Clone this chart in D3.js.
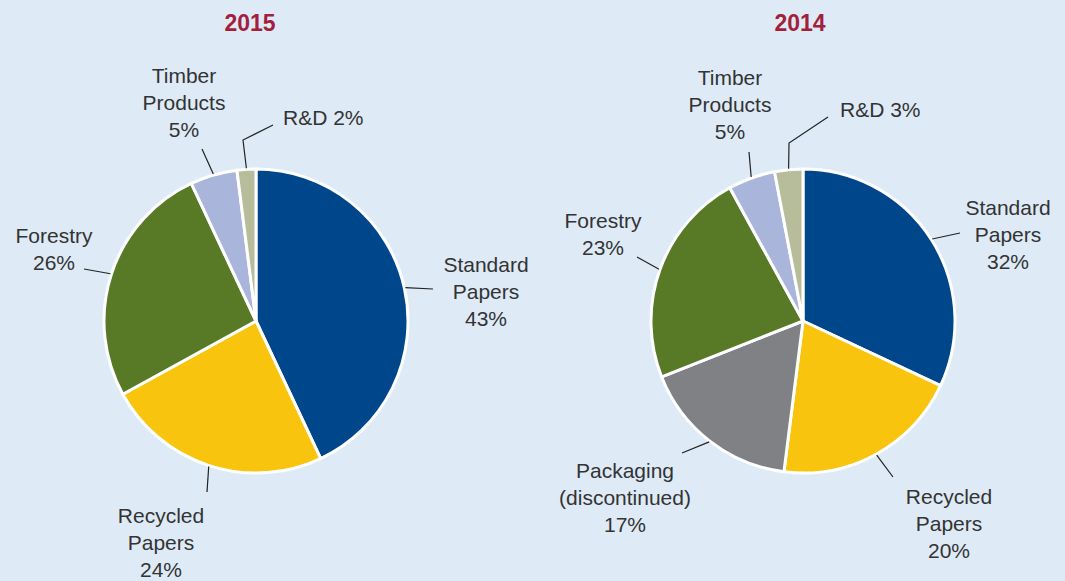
<!DOCTYPE html>
<html>
<head>
<meta charset="utf-8">
<script src="https://cdn.jsdelivr.net/npm/d3@7"></script>
<style>
  html, body { margin: 0; padding: 0; background: #deebf7; }
  svg { display: block; }
  .lbl { font-family: "Liberation Sans", Arial, sans-serif; font-size: 21px; fill: #333; }
  .title { font-family: "Liberation Sans", Arial, sans-serif; font-size: 23px; font-weight: bold; fill: #a31f3b; }
</style>
</head>
<body>
<svg id="chart" width="1065" height="581"></svg>
<script>
'use strict';

// data
const years = ['2015', '2014'];
const categories2015 = ['Standard Papers', 'Recycled Papers', 'Forestry', 'Timber Products', 'R&D'];
const values2015 = [43, 24, 26, 5, 2];
const categories2014 = ['Standard Papers', 'Recycled Papers', 'Packaging (discontinued)', 'Forestry', 'Timber Products', 'R&D'];
const values2014 = [32, 20, 17, 23, 5, 3];

const COLORS = {
    'Standard Papers': '#00468b',
    'Recycled Papers': '#f8c40e',
    'Packaging (discontinued)': '#808185',
    'Forestry': '#587a26',
    'Timber Products': '#a9b5da',
    'R&D': '#b7bd9b'
};

const RADIUS = 152;

// label placement relative to pie centre: text anchor [dx, dy], leader end, optional elbow
const LAYOUT = {
    '2015': {
        cx: 256, cy: 321,
        'Standard Papers': { t: [230, -49], end: [177, -32] },
        'Recycled Papers': { t: [-95, 202], end: [-49, 171] },
        'Forestry': { t: [-202, -78], end: [-172, -52] },
        'Timber Products': { t: [-72, -238], end: [-54, -172] },
        'R&D': { t: [27, -196], end: [17, -196], elbow: [-13, -181], inline: true }
    },
    '2014': {
        cx: 803, cy: 321,
        'Standard Papers': { t: [205, -106], end: [157, -88] },
        'Recycled Papers': { t: [146, 183], end: [90, 156] },
        'Packaging (discontinued)': { t: [-178, 157], end: [-121, 132] },
        'Forestry': { t: [-200, -93], end: [-166, -64] },
        'Timber Products': { t: [-73, -236], end: [-54, -169] },
        'R&D': { t: [37, -204], end: [25, -204], elbow: [-14, -178], inline: true }
    }
};

const svg = d3.select('#chart');

const pie = d3.pie().sort(null).value(function(d) { return d.value; });
const arc = d3.arc().innerRadius(0).outerRadius(RADIUS);

function drawPie(year, cats, vals) {
    const lay = LAYOUT[year];
    const data = cats.map(function(c, i) { return { name: c, value: vals[i] }; });
    const g = svg.append('g').attr('transform', 'translate(' + lay.cx + ',' + lay.cy + ')');

    g.append('text')
        .attr('class', 'title')
        .attr('text-anchor', 'middle')
        .attr('x', year === '2015' ? -6 : -3)
        .attr('y', 31 - lay.cy)
        .text(year);

    const arcs = pie(data);

    g.selectAll('path.slice')
        .data(arcs)
        .enter()
        .append('path')
        .attr('class', 'slice')
        .attr('d', arc)
        .attr('fill', function(d) { return COLORS[d.data.name]; })
        .attr('stroke', '#fff')
        .attr('stroke-width', 3)
        .attr('stroke-linejoin', 'round');

    arcs.forEach(function(d) {
        const l = lay[d.data.name];
        const mid = (d.startAngle + d.endAngle) / 2;
        const r0 = RADIUS + 1;
        const pts = [[Math.sin(mid) * r0, -Math.cos(mid) * r0]];
        if (l.elbow) pts.push(l.elbow);
        pts.push(l.end);
        g.append('path')
            .attr('d', d3.line()(pts))
            .attr('fill', 'none')
            .attr('stroke', '#222')
            .attr('stroke-width', 1.2);

        const pct = d.data.value + '%';
        let lines;
        if (l.inline) {
            lines = [d.data.name + ' ' + pct];
        } else {
            lines = d.data.name.split(' ').concat([pct]);
        }
        const txt = g.append('text')
            .attr('class', 'lbl')
            .attr('text-anchor', l.inline ? 'start' : 'middle');
        lines.forEach(function(s, i) {
            txt.append('tspan')
                .attr('x', l.t[0])
                .attr('y', l.t[1] + i * 27)
                .text(s);
        });
    });
}

drawPie(years[0], categories2015, values2015);
drawPie(years[1], categories2014, values2014);
</script>
</body>
</html>
